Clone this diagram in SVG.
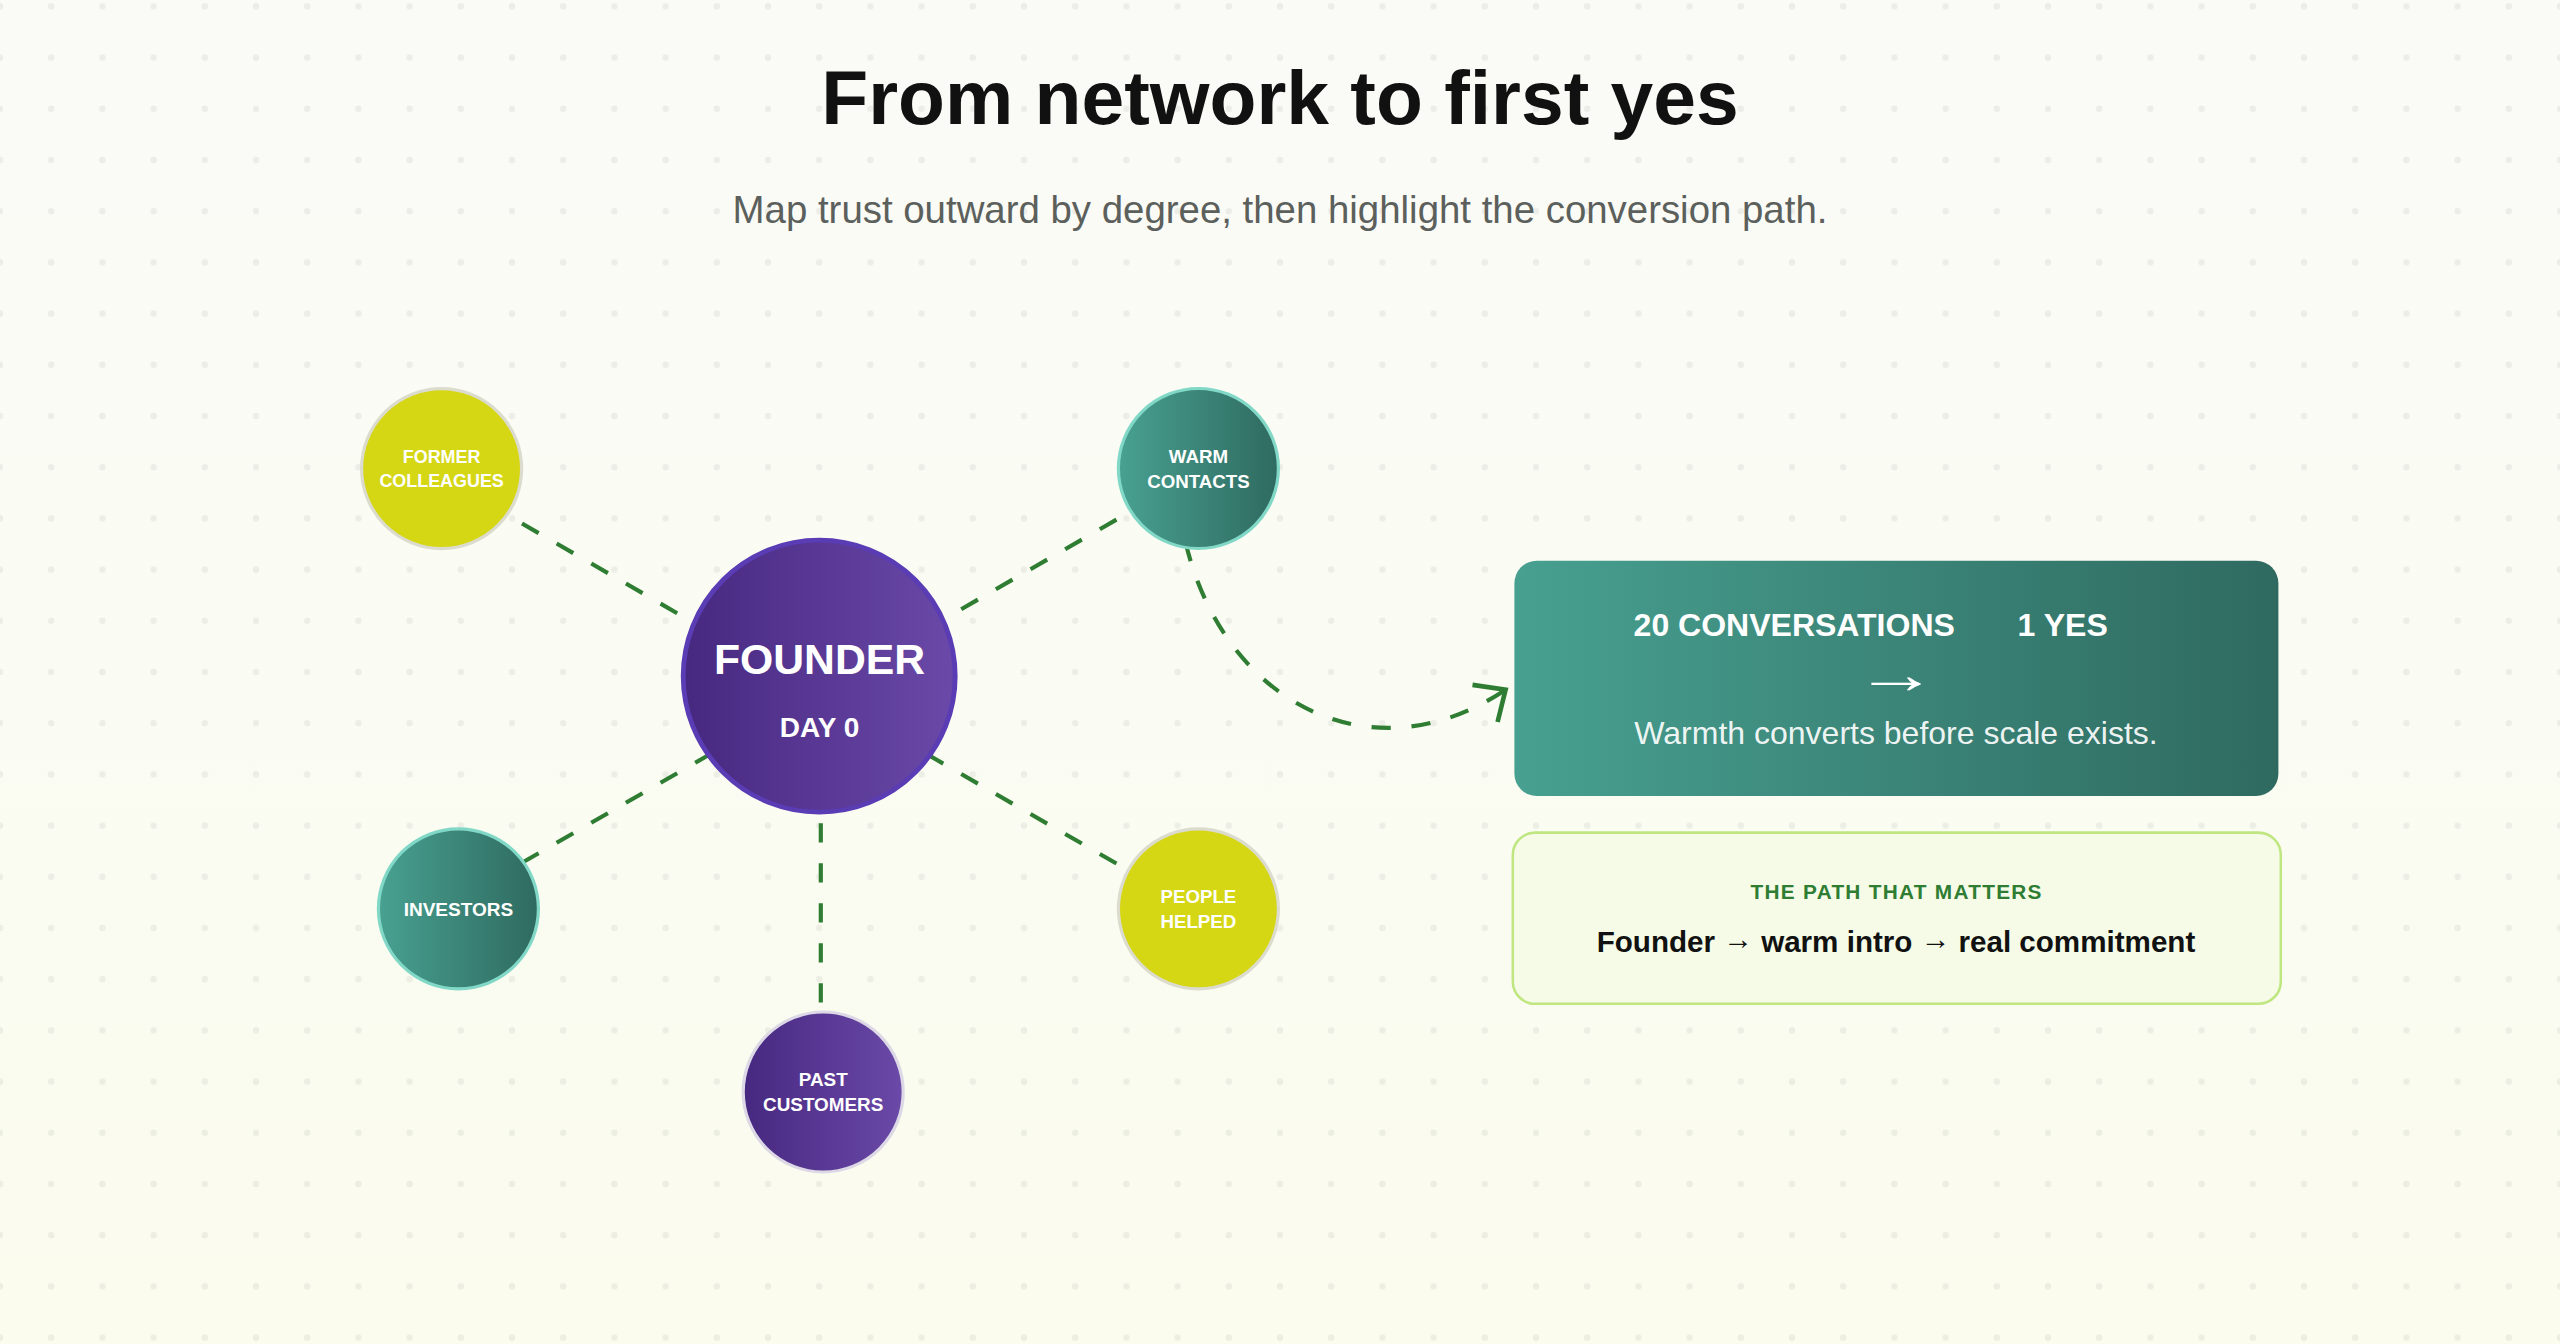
<svg xmlns="http://www.w3.org/2000/svg" width="2560" height="1344" viewBox="0 0 2560 1344">
  <defs>
    <style>
      .title { font-family: "Liberation Sans", Arial, sans-serif; font-weight: 700; font-size: 48px; fill: #111111; text-anchor: middle; }
      .subtitle { font-family: "Liberation Sans", Arial, sans-serif; font-size: 24px; fill: #5c605c; text-anchor: middle; }
      .lbl { font-family: "Liberation Sans", Arial, sans-serif; font-weight: 700; fill: #ffffff; text-anchor: middle; }
      .conn { fill: none; stroke: #2e7d32; stroke-width: 2.6; stroke-dasharray: 12 13; }
      .stat { font-family: "Liberation Sans", Arial, sans-serif; font-weight: 700; font-size: 20px; fill: #ffffff; }
      .arrow { font-family: "Liberation Sans", Arial, sans-serif; font-weight: 400; font-size: 34px; fill: #ffffff; text-anchor: middle; }
      .note { font-family: "Liberation Sans", Arial, sans-serif; font-size: 20px; fill: #ffffff; fill-opacity: 0.93; text-anchor: middle; }
      .kicker { font-family: "Liberation Sans", Arial, sans-serif; font-weight: 700; font-size: 13px; letter-spacing: 0.8px; fill: #2e7d32; text-anchor: middle; }
      .path { font-family: "Liberation Sans", Arial, sans-serif; font-weight: 700; font-size: 18.5px; fill: #111111; text-anchor: middle; }
      .yellow { fill: #d5d614; stroke: #dcdcce; stroke-width: 2; }
      .teal { fill: url(#gTeal); stroke: #82d8c7; stroke-width: 2; }
      .purple { fill: url(#gPurple); stroke: #ddd8e6; stroke-width: 2; }
    </style>
    <linearGradient id="gBg" x1="0" y1="0" x2="0" y2="1">
      <stop offset="0" stop-color="#fafbf7"/>
      <stop offset="1" stop-color="#fbfcee"/>
    </linearGradient>
    <pattern id="dots" patternUnits="userSpaceOnUse" x="-16" y="-12" width="32" height="32">
      <circle cx="16" cy="16" r="2" fill="#000000" fill-opacity="0.055"/>
    </pattern>
    <linearGradient id="gTeal" x1="0" y1="0" x2="1" y2="0">
      <stop offset="0" stop-color="#48a191"/>
      <stop offset="1" stop-color="#2f6a60"/>
    </linearGradient>
    <linearGradient id="gPurple" x1="0" y1="0" x2="1" y2="0">
      <stop offset="0" stop-color="#472880"/>
      <stop offset="1" stop-color="#6a49a8"/>
    </linearGradient>
    <linearGradient id="gBox" x1="0" y1="0" x2="1" y2="0">
      <stop offset="0" stop-color="#47a090"/>
      <stop offset="1" stop-color="#2f6a60"/>
    </linearGradient>
    <marker id="chev" markerUnits="userSpaceOnUse" viewBox="-20 -16 24 32" markerWidth="24" markerHeight="32" refX="0" refY="0" orient="auto" overflow="visible">
      <path d="M-15.5,-14 L0,0 L-15.5,14" fill="none" stroke="#2e7d32" stroke-width="2.9"/>
    </marker>
  </defs>

  <rect x="0" y="0" width="2560" height="1344" fill="url(#gBg)"/>

  <g transform="scale(1.6)">
    <rect x="0" y="0" width="1600" height="840" fill="url(#dots)"/>

    <g id="header">
      <text class="title" x="800" y="77.5">From network to first yes</text>
      <text class="subtitle" x="800" y="139.4">Map trust outward by degree, then highlight the conversion path.</text>
    </g>

    <g id="connectors">
      <line class="conn" x1="512" y1="434.5" x2="276" y2="298.2" stroke-dashoffset="-2.5"/>
      <line class="conn" x1="512" y1="432" x2="749" y2="295.2" stroke-dashoffset="-2.5"/>
      <line class="conn" x1="512" y1="432" x2="286.5" y2="562.2" stroke-dashoffset="-2.5"/>
      <line class="conn" x1="512" y1="432.5" x2="749" y2="569.3" stroke-dashoffset="-2.5"/>
      <line class="conn" x1="513" y1="432" x2="513" y2="682" stroke-dashoffset="-7.6"/>
      <path class="conn" d="M741,339 C765,440 858,487 941,431" marker-end="url(#chev)"/>
    </g>

    <g id="node-founder">
      <circle cx="512" cy="422.6" r="85" fill="url(#gPurple)" stroke="#5a3cb4" stroke-width="3"/>
      <text class="lbl" x="512.2" y="421.2" font-size="26.7">FOUNDER</text>
      <text class="lbl" x="512.2" y="460.4" font-size="17.5">DAY 0</text>
    </g>

    <g id="node-former-colleagues">
      <circle class="yellow" cx="276" cy="292.9" r="50"/>
      <text class="lbl" x="276" y="289.6" font-size="11.2">FORMER</text>
      <text class="lbl" x="276" y="304.2" font-size="11.2">COLLEAGUES</text>
    </g>

    <g id="node-warm-contacts">
      <circle class="teal" cx="749" cy="292.8" r="50"/>
      <text class="lbl" x="749" y="289.2" font-size="11.7">WARM</text>
      <text class="lbl" x="749" y="305.2" font-size="11.7">CONTACTS</text>
    </g>

    <g id="node-investors">
      <circle class="teal" cx="286.5" cy="568" r="50"/>
      <text class="lbl" x="286.5" y="572.2" font-size="11.9">INVESTORS</text>
    </g>

    <g id="node-people-helped">
      <circle class="yellow" cx="749" cy="568" r="50"/>
      <text class="lbl" x="749" y="564.5" font-size="11.7">PEOPLE</text>
      <text class="lbl" x="749" y="580.3" font-size="11.7">HELPED</text>
    </g>

    <g id="node-past-customers">
      <circle class="purple" cx="514.5" cy="682.5" r="50"/>
      <text class="lbl" x="514.5" y="678.8" font-size="11.8">PAST</text>
      <text class="lbl" x="514.5" y="694.4" font-size="11.8">CUSTOMERS</text>
    </g>

    <g id="node-conversion">
      <rect x="946.5" y="350.5" width="477.5" height="147" rx="14" fill="url(#gBox)"/>
      <text class="stat" x="1021" y="397.3">20 CONVERSATIONS</text>
      <text class="stat" x="1261" y="397.3">1 YES</text>
      <text class="arrow" x="1185" y="433.4" textLength="52" lengthAdjust="spacingAndGlyphs">→</text>
      <text class="note" x="1185" y="465">Warmth converts before scale exists.</text>
    </g>

    <g id="node-path">
      <rect x="945.5" y="520.4" width="480" height="107" rx="14" fill="#f5fbe7" stroke="#bfe681" stroke-width="1.6"/>
      <text class="kicker" x="1185.4" y="562">THE PATH THAT MATTERS</text>
      <text class="path" x="1185" y="594.8">Founder <tspan dy="-1.5">→</tspan><tspan dy="1.5"> warm intro </tspan><tspan dy="-1.5">→</tspan><tspan dy="1.5"> real commitment</tspan></text>
    </g>
  </g>
</svg>
